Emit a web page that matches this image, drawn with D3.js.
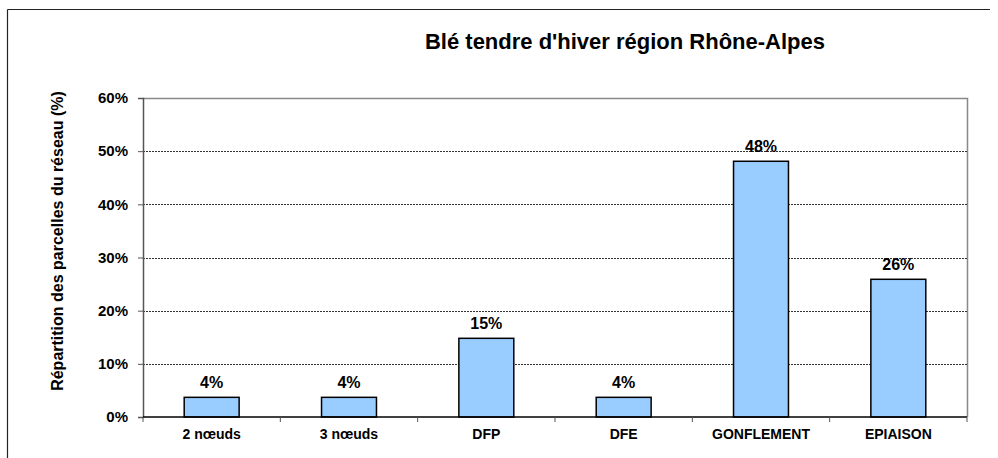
<!DOCTYPE html>
<html>
<head>
<meta charset="utf-8">
<script src="https://cdn.jsdelivr.net/npm/d3@7"></script>
<style>
  body { margin: 0; background: #fff; }
  text { font-family: "Liberation Sans", Arial, sans-serif; font-weight: bold; fill: #000; }
</style>
</head>
<body>
<div id="chart"></div>
<script>
// Data
var categories = ["2 nœuds", "3 nœuds", "DFP", "DFE", "GONFLEMENT", "EPIAISON"];
var values = [3.7, 3.7, 14.8, 3.7, 48.1, 25.9];
var yTicks = [0, 10, 20, 30, 40, 50, 60];

var W = 998, H = 458;
var margin = { top: 98, right: 31, bottom: 41, left: 143 };
var width = W - margin.left - margin.right;
var height = H - margin.top - margin.bottom;

var svg = d3.select("#chart")
  .append("svg")
  .attr("width", W)
  .attr("height", H);

// outer frame (top and left visible)
svg.append("line").attr("x1", 7.5).attr("x2", 990).attr("y1", 9.5).attr("y2", 9.5)
  .attr("stroke", "#222").attr("stroke-width", 1.2);
svg.append("line").attr("x1", 7.5).attr("x2", 7.5).attr("y1", 9.5).attr("y2", H)
  .attr("stroke", "#222").attr("stroke-width", 1.2);

// title
svg.append("text")
  .attr("x", 625)
  .attr("y", 49)
  .attr("text-anchor", "middle")
  .style("font-size", "22px")
  .text("Blé tendre d'hiver région Rhône-Alpes");

var g = svg.append("g")
  .attr("transform", "translate(" + margin.left + "," + margin.top + ")");

var x = d3.scaleBand()
  .domain(categories)
  .range([0, width])
  .paddingInner(0.6)
  .paddingOuter(0.3);

var xb = d3.scaleBand().domain(categories).range([0, width]);

var y = d3.scaleLinear()
  .domain([0, 60])
  .range([height, 0]);

// plot frame top/right in gray
g.append("path")
  .attr("d", "M0,0.5H" + (width + 0.5) + "V" + height)
  .attr("fill", "none")
  .attr("stroke", "#888")
  .attr("stroke-width", 1.5);

// gridlines
g.selectAll(".grid")
  .data(yTicks.filter(function(d) { return d > 0 && d < 60; }))
  .enter().append("line")
  .attr("x1", 0)
  .attr("x2", width)
  .attr("y1", function(d) { return Math.round(y(d)) + 0.5; })
  .attr("y2", function(d) { return Math.round(y(d)) + 0.5; })
  .attr("stroke", "#333")
  .attr("stroke-width", 1)
  .attr("stroke-dasharray", "2,1");

// bars
g.selectAll(".bar")
  .data(values)
  .enter().append("rect")
  .attr("x", function(d, i) { return x(categories[i]); })
  .attr("y", function(d) { return y(d); })
  .attr("width", x.bandwidth())
  .attr("height", function(d) { return height - y(d); })
  .attr("fill", "#99ccff")
  .attr("stroke", "#000")
  .attr("stroke-width", 1.5);

// value labels
g.selectAll(".label")
  .data(values)
  .enter().append("text")
  .attr("x", function(d, i) { return x(categories[i]) + x.bandwidth() / 2; })
  .attr("y", function(d) { return y(d) - 9; })
  .attr("text-anchor", "middle")
  .style("font-size", "16px")
  .text(function(d) { return Math.round(d) + "%"; });

// y axis
var yAxis = g.append("g")
  .call(d3.axisLeft(y).tickValues(yTicks).tickSize(5).tickPadding(10)
    .tickFormat(function(d) { return d + "%"; }));
yAxis.select(".domain").attr("stroke", "#555").attr("stroke-width", 1.5);
yAxis.selectAll(".tick line").attr("stroke", "#555");
yAxis.selectAll("text").style("font-size", "15px").attr("fill", "#000");

// x axis
var xAxis = g.append("g")
  .attr("transform", "translate(0," + height + ")");
xAxis.append("line")
  .attr("x1", 0).attr("x2", width)
  .attr("stroke", "#000").attr("stroke-width", 1.5);
xAxis.selectAll(".xtick")
  .data(categories.concat([null]))
  .enter().append("line")
  .attr("x1", function(d, i) { return i < categories.length ? xb(d) : width; })
  .attr("x2", function(d, i) { return i < categories.length ? xb(d) : width; })
  .attr("y1", 0).attr("y2", 5)
  .attr("stroke", "#555");
xAxis.selectAll(".xlabel")
  .data(categories)
  .enter().append("text")
  .attr("x", function(d) { return xb(d) + xb.bandwidth() / 2; })
  .attr("y", 22)
  .attr("text-anchor", "middle")
  .style("font-size", "14px")
  .text(function(d) { return d; });

// y axis title
svg.append("text")
  .attr("transform", "translate(63,241) rotate(-90)")
  .attr("text-anchor", "middle")
  .style("font-size", "16px")
  .text("Répartition des parcelles du réseau (%)");
</script>
</body>
</html>
